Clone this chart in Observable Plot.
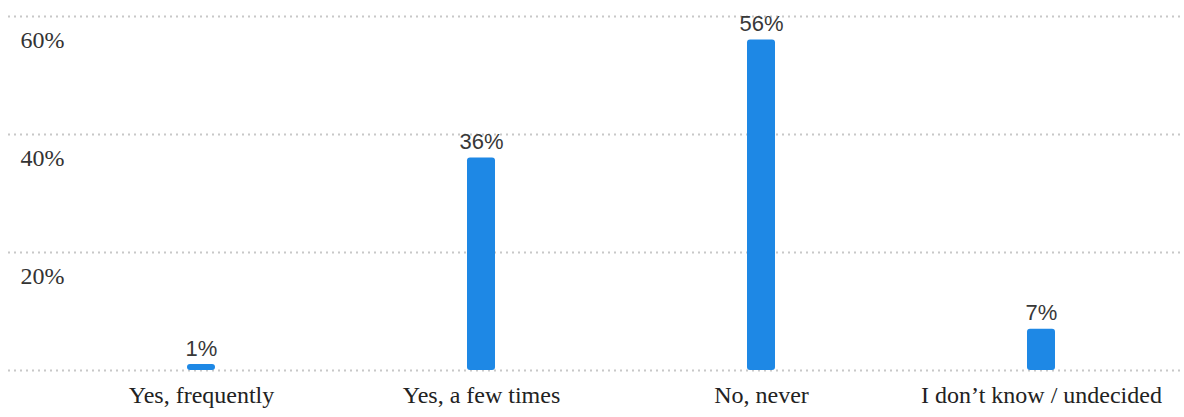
<!DOCTYPE html>
<html>
<head>
<meta charset="utf-8">
<script src="https://cdn.jsdelivr.net/npm/d3@7"></script>
<script src="https://cdn.jsdelivr.net/npm/@observablehq/plot@0.6"></script>
<style>
  html, body { margin: 0; padding: 0; background: #fff; }
  #chart svg { display: block; }
</style>
</head>
<body>
<div id="chart"></div>
<script>
const categories = ["Yes, frequently", "Yes, a few times", "No, never", "I don\u2019t know / undecided"];
const values = [1, 36, 56, 7];
const yTicks = [0, 20, 40, 60];
const yLabelTicks = [20, 40, 60];

const data = categories.map((c, i) => ({category: c, value: values[i]}));

const chart = Plot.plot({
  width: 1184,
  height: 417,
  marginLeft: 8,
  marginRight: 3,
  marginTop: 16,
  marginBottom: 47,
  style: {background: "#fff"},
  x: {domain: categories, range: [61, 1181], paddingInner: 0.9, paddingOuter: 0.45, label: null},
  y: {domain: [0, 60], label: null},
  marks: [
    Plot.ruleY(yTicks, {stroke: "#c8c8c8", strokeWidth: 2, strokeDasharray: "2,4", strokeOpacity: 1}),
    Plot.barY(data, {x: "category", y: "value", fill: "#1E88E5", rx: 3}),
    Plot.text(data, {x: "category", y: "value", text: d => d.value + "%", dy: -16, fill: "#383838", fontSize: 22, fontFamily: "Liberation Sans, Arial, sans-serif"}),
    Plot.axisY(yLabelTicks, {tickSize: 0, tickPadding: 0, textAnchor: "start", dx: 12, dy: 24, tickFormat: d => d + "%", fontSize: 24, fontFamily: "Liberation Serif, Times New Roman, serif", fill: "#333", label: null}),
    Plot.axisX({tickSize: 0, tickPadding: 15, fontSize: 24, fontFamily: "Liberation Serif, Times New Roman, serif", fill: "#222", label: null})
  ]
});
document.getElementById("chart").appendChild(chart);
</script>
</body>
</html>
